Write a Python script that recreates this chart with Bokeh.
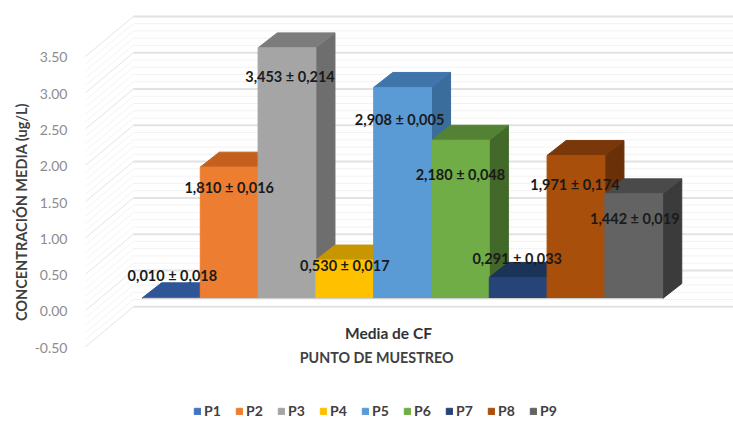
from bokeh.embed import file_html
from bokeh.resources import INLINE
from bokeh.plotting import figure
from bokeh.models import (ColumnDataSource, FixedTicker, Legend, LegendItem,
                          LinearAxis, NumeralTickFormatter, Range1d, Title)
from bokeh.core.properties import value

# Mean concentration per sampling point, with its deviation
points = ["P1", "P2", "P3", "P4", "P5", "P6", "P7", "P8", "P9"]
means = [0.010, 1.810, 3.453, 0.530, 2.908, 2.180, 0.291, 1.971, 1.442]
devs = [0.018, 0.016, 0.214, 0.017, 0.005, 0.048, 0.033, 0.174, 0.019]
y_ticks = [-0.5, 0.0, 0.5, 1.0, 1.5, 2.0, 2.5, 3.0, 3.5]
y_title = "CONCENTRACIÓN MEDIA (ug/L)"
category_label = "Media de CF"
x_title = "PUNTO DE MUESTREO"

front_colors = ["#4472C4", "#ED7D31", "#A5A5A5", "#FFC000", "#5B9BD5",
                "#70AD47", "#264478", "#A84F0C", "#636363"]
top_colors = ["#2F5597", "#C55F1E", "#7C7C7C", "#C79600", "#3F75AA",
              "#548235", "#1C3358", "#7A380A", "#4A4A4A"]
side_colors = ["#2A4C8A", "#B0541A", "#6E6E6E", "#B38700", "#3A6C9C",
               "#42682A", "#172B4C", "#6A3008", "#3B3B3B"]

# Extrusion of the bars and of the chart box, in data units
DX, DY = 0.33, 0.206
WALL_X0, WALL_X1, WALL_DY = -0.156, 10.3, 0.386
SIDE_X0, SIDE_DY = -0.986, -0.165

p = figure(width=733, height=423, output_backend="svg", toolbar_location=None,
           x_range=Range1d(-1.107, 10.225), y_range=Range1d(-1.722, 4.105),
           min_border_left=78, min_border_right=0, min_border_top=0,
           min_border_bottom=0, outline_line_color=None, background_fill_color="white")
p.xaxis.visible = False
p.yaxis.visible = False
p.grid.visible = False

# Chart box: back wall lines and their continuation along the left wall
for k in range(41):
    lvl = -0.5 + 0.1 * k
    major = k % 5 == 0
    p.line([WALL_X0, WALL_X1], [lvl + WALL_DY] * 2,
           line_color="#E2E2E2" if major else "#F2F2F2", line_width=2 if major else 1)
    p.line([SIDE_X0, WALL_X0], [lvl + SIDE_DY, lvl + WALL_DY],
           line_color="#E4E4E4" if major else "#F4F4F4", line_width=1)

# Bars drawn left to right so that each one hides the side of the previous one
legend_items = []
for i, (name, v) in enumerate(zip(points, means)):
    p.patch([i + 1, i + 1 + DX, i + 1 + DX, i + 1], [0, DY, v + DY, v], color=side_colors[i])
    p.patch([i, i + DX, i + 1 + DX, i + 1], [v, v + DY, v + DY, v], color=top_colors[i])
    front = p.quad(left=i, right=i + 1, bottom=0, top=v, color=front_colors[i])
    legend_items.append(LegendItem(label=name, renderers=[front]))

p.line([0, 9], [0, 0], line_color="#D0D0D0", line_width=1)

# Value labels sit on the bars at hand-placed offsets
label_dx = [1, 0, 3, 0, -3, 0, -1, -1, 1]
label_dy = [-22, 20, 29, 5, 32, 34, -19, 29, 25]
labels = [f"{m:.3f} ± {d:.3f}".replace(".", ",") for m, d in zip(means, devs)]
src = ColumnDataSource(dict(x=[i + 0.5 for i in range(9)], y=means, text=labels,
                            dx=label_dx, dy=label_dy))
p.text("x", "y", text="text", source=src, x_offset="dx", y_offset="dy",
       text_align="center", text_baseline="middle", text_color="#1A1A1A",
       text_font=value("Lato"), text_font_style="bold", text_font_size="14.5px")

# Value axis: its labels belong to the front edge of the box, 12px below the bars
p.extra_y_ranges["front"] = Range1d(-1.543, 4.284)
yaxis = LinearAxis(y_range_name="front", ticker=FixedTicker(ticks=y_ticks),
                   axis_line_color=None,
                   major_tick_line_color=None, minor_tick_line_color=None,
                   major_label_standoff=5,
                   formatter=NumeralTickFormatter(format="0.00"))
yaxis.major_label_text_font = "Lato"
yaxis.major_label_text_font_size = "14px"
yaxis.major_label_text_color = "#8C8C8C"
p.add_layout(yaxis, "left")

p.add_layout(Title(text=y_title, align="center", offset=19, standoff=3,
                   text_font="Lato", text_font_size="14.5px", text_font_style="bold",
                   text_color="#404040"), "left")

# Category caption and axis title under the box
p.text([4.256], [-0.482], text=[category_label], text_align="center",
       text_baseline="middle", text_color="#333333", text_font=value("Lato"),
       text_font_style="bold", text_font_size="15.5px")
p.text([4.05], [-0.813], text=[x_title], text_align="center",
       text_baseline="middle", text_color="#404040", text_font=value("Lato"),
       text_font_style="bold", text_font_size="14.3px")

legend = Legend(items=legend_items, orientation="horizontal", location=(115, 4),
                glyph_width=8, glyph_height=8, label_standoff=3, spacing=11,
                padding=0, margin=0, border_line_color=None, background_fill_alpha=0,
                label_text_font="Lato", label_text_font_style="bold",
                label_text_font_size="14px", label_text_color="#404040",
                label_height=12)
p.add_layout(legend)

open("out.html", "w").write(file_html(p, INLINE))
